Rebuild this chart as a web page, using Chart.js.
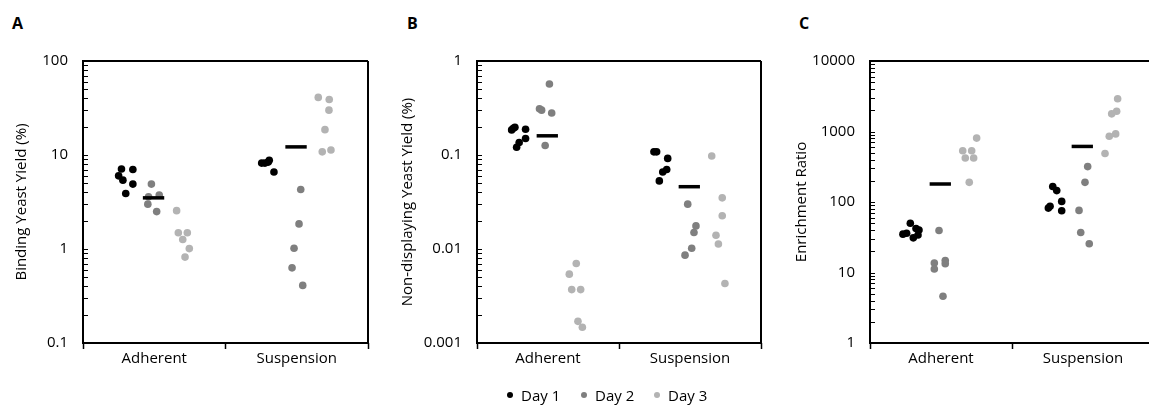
<!DOCTYPE html>
<html>
<head>
<meta charset="utf-8">
<script src="https://cdn.jsdelivr.net/npm/chart.js@4"></script>
<style>
  html, body { margin: 0; padding: 0; background: #fff; overflow: hidden; }
  body { width: 1149px; height: 405px; position: relative; font-family: 'Open Sans', sans-serif; }
  .panel { position: absolute; top: 0; height: 405px; }
  .letter { position: absolute; top: 12px; font-weight: bold; font-size: 16px; color: #000; }
  .legend-item { position: absolute; top: 385px; font-size: 15px; color: #000; display: flex; align-items: center; }
  .legend-item i { display: inline-block; width: 6px; height: 6px; border-radius: 50%; margin-right: 8px; }
</style>
</head>
<body>
<div class="letter" style="left:12px">A</div>
<div class="letter" style="left:407px">B</div>
<div class="letter" style="left:799px">C</div>

<div class="panel" style="left:0;width:380px"><canvas id="chartA"></canvas></div>
<div class="panel" style="left:380px;width:390px"><canvas id="chartB"></canvas></div>
<div class="panel" style="left:770px;width:390px"><canvas id="chartC"></canvas></div>

<div id="legend"></div>

<script>
const categories = ['Adherent', 'Suspension'];
const days = ['Day 1', 'Day 2', 'Day 3'];
const dayColors = ['#000000', '#7f7f7f', '#b3b3b3'];

// each point: [x position on the category axis (0..2), value]
// A - binding yeast yield (%)
const aAdherentDay1 = [[0.27, 7.1], [0.25, 6.0], [0.28, 5.4], [0.30, 3.9], [0.35, 7.0], [0.35, 4.9]];
const aAdherentDay2 = [[0.48, 4.9], [0.46, 3.6], [0.535, 3.75], [0.455, 3.0], [0.517, 2.5]];
const aAdherentDay3 = [[0.657, 2.56], [0.669, 1.49], [0.732, 1.49], [0.70, 1.26], [0.746, 1.01], [0.716, 0.82]];
const aSuspensionDay1 = [[1.254, 8.2], [1.277, 8.2], [1.30, 8.4], [1.307, 8.8], [1.34, 6.6]];
const aSuspensionDay2 = [[1.528, 4.3], [1.516, 1.85], [1.481, 1.02], [1.467, 0.63], [1.542, 0.41]];
const aSuspensionDay3 = [[1.651, 41], [1.728, 39], [1.726, 30], [1.698, 18.6], [1.679, 10.8], [1.74, 11.3]];
const aMeans = [3.5, 12.2];
const aTickLabels = ['0.1', '1', '10', '100'];

// B - non-displaying yeast yield (%)
const bAdherentDay1 = [[0.256, 0.192], [0.267, 0.197], [0.244, 0.185], [0.342, 0.188], [0.342, 0.15], [0.297, 0.136], [0.279, 0.121]];
const bAdherentDay2 = [[0.51, 0.57], [0.44, 0.31], [0.455, 0.30], [0.526, 0.28], [0.48, 0.126]];
const bAdherentDay3 = [[0.699, 0.0070], [0.65, 0.0054], [0.667, 0.0037], [0.73, 0.0037], [0.711, 0.0017], [0.742, 0.00147]];
const bSuspensionDay1 = [[1.246, 0.108], [1.265, 0.108], [1.343, 0.092], [1.336, 0.070], [1.308, 0.066], [1.284, 0.053]];
const bSuspensionDay2 = [[1.484, 0.030], [1.542, 0.0176], [1.528, 0.015], [1.512, 0.0102], [1.465, 0.0086]];
const bSuspensionDay3 = [[1.653, 0.0975], [1.727, 0.035], [1.727, 0.0226], [1.683, 0.014], [1.70, 0.0113], [1.746, 0.0043]];
const bMeans = [0.16, 0.046];
const bTickLabels = ['0.001', '0.01', '0.1', '1'];

// C - enrichment ratio
const cAdherentDay1 = [[0.284, 50], [0.258, 36], [0.232, 35], [0.305, 31], [0.324, 42], [0.345, 40], [0.338, 34]];
const cAdherentDay2 = [[0.486, 39.5], [0.453, 13.6], [0.453, 11.2], [0.53, 14.8], [0.53, 13.3], [0.514, 4.6]];
const cAdherentDay3 = [[0.653, 533], [0.716, 533], [0.671, 420], [0.73, 420], [0.751, 806], [0.699, 190]];
const cSuspensionDay1 = [[1.287, 166], [1.315, 145], [1.256, 82], [1.268, 87], [1.35, 102], [1.35, 75]];
const cSuspensionDay2 = [[1.533, 318], [1.514, 190], [1.472, 76], [1.484, 37], [1.544, 25.6]];
const cSuspensionDay3 = [[1.744, 2920], [1.737, 1936], [1.702, 1780], [1.73, 925], [1.685, 855], [1.655, 487]];
const cMeans = [180, 614];
const cTickLabels = ['1', '10', '100', '1000', '10000'];

const meanFrom = 0.42, meanTo = 0.57;
const FONT = { family: 'Open Sans', size: 15 };

// frame round the plot + short inward ticks on the log axis
const framePlugin = {
  id: 'frame',
  afterDraw(chart, args, opts) {
    const { ctx, chartArea: a } = chart;
    const y = chart.scales.y;
    ctx.save();
    ctx.strokeStyle = '#000';
    ctx.lineWidth = 1;
    y.ticks.forEach(t => {
      const py = Math.round(y.getPixelForValue(t.value)) + 0.5;
      ctx.beginPath();
      ctx.moveTo(a.left, py);
      ctx.lineTo(a.left + 5, py);
      ctx.stroke();
    });
    ctx.lineWidth = 2;
    ctx.beginPath();
    ctx.moveTo(a.right, a.top);
    ctx.lineTo(a.left, a.top);
    ctx.lineTo(a.left, a.bottom);
    ctx.lineTo(a.right, a.bottom);
    if (!opts.openRight) ctx.lineTo(a.right, a.top);
    ctx.stroke();
    ctx.restore();
  }
};

function toPoints(list) {
  return list.map(p => ({ x: p[0], y: p[1] }));
}

function makePanel(id, groups, means, tickLabels, title, opt) {
  const minExp = Math.round(Math.log10(opt.min));
  const maxExp = Math.round(Math.log10(opt.max));
  const tickValues = [];
  for (let e = minExp; e < maxExp; e++) {
    for (let s = 1; s < 10; s++) tickValues.push(s * Math.pow(10, e));
  }
  tickValues.push(Math.pow(10, maxExp));

  const meanSets = means.map((m, i) => ({
    type: 'line',
    data: [{ x: i + meanFrom, y: m }, { x: i + meanTo, y: m }],
    borderColor: '#000',
    borderWidth: 3.5,
    pointRadius: 0,
    fill: false
  }));

  const daySets = groups.map((g, d) => ({
    label: days[d],
    data: toPoints(g[0].concat(g[1])),
    backgroundColor: dayColors[d],
    borderColor: dayColors[d],
    borderWidth: 0,
    pointRadius: 3.8
  }));

  return new Chart(document.getElementById(id), {
    type: 'scatter',
    data: { datasets: meanSets.concat(daySets) },
    options: {
      responsive: true,
      maintainAspectRatio: false,
      animation: false,
      events: [],
      layout: { padding: { top: 61, right: opt.right, bottom: 32, left: 0 } },
      plugins: {
        legend: { display: false },
        tooltip: { enabled: false },
        frame: { openRight: !!opt.openRight }
      },
      scales: {
        x: {
          type: 'linear',
          min: 0,
          max: 2,
          afterBuildTicks: axis => { axis.ticks = [0, 0.5, 1, 1.5, 2].map(v => ({ value: v })); },
          afterFit: axis => { axis.height = 30; },
          border: { display: false },
          grid: {
            display: true,
            drawOnChartArea: false,
            drawTicks: true,
            tickLength: 6,
            tickWidth: 1.5,
            tickColor: c => Number.isInteger(c.tick.value) ? '#000' : 'rgba(0,0,0,0)'
          },
          ticks: {
            autoSkip: false,
            maxRotation: 0,
            padding: 1,
            color: '#000',
            font: FONT,
            callback: v => v === 0.5 ? categories[0] : (v === 1.5 ? categories[1] : '')
          }
        },
        y: {
          type: 'logarithmic',
          min: opt.min,
          max: opt.max,
          afterBuildTicks: axis => { axis.ticks = tickValues.map(v => ({ value: v })); },
          afterFit: axis => { axis.width = opt.axisWidth; },
          border: { display: false },
          grid: { display: false, drawTicks: false },
          ticks: {
            autoSkip: false,
            padding: 15,
            color: '#000',
            font: FONT,
            callback: v => {
              const e = Math.log10(v);
              if (Math.abs(e - Math.round(e)) > 1e-6) return '';
              return tickLabels[Math.round(e) - minExp];
            }
          },
          title: {
            display: true,
            text: title,
            color: '#000',
            font: FONT,
            padding: { top: opt.titlePad, bottom: 0 }
          }
        }
      }
    },
    plugins: [framePlugin]
  });
}

makePanel('chartA',
  [[aAdherentDay1, aSuspensionDay1], [aAdherentDay2, aSuspensionDay2], [aAdherentDay3, aSuspensionDay3]],
  aMeans, aTickLabels, 'Binding Yeast Yield (%)',
  { min: 0.1, max: 100, right: 12, axisWidth: 83, titlePad: 13 });

makePanel('chartB',
  [[bAdherentDay1, bSuspensionDay1], [bAdherentDay2, bSuspensionDay2], [bAdherentDay3, bSuspensionDay3]],
  bMeans, bTickLabels, 'Non-displaying Yeast Yield (%)',
  { min: 0.001, max: 1, right: 9, axisWidth: 97, titlePad: 19 });

// panel C runs past the right edge of the figure, so its right side stays open
makePanel('chartC',
  [[cAdherentDay1, cSuspensionDay1], [cAdherentDay2, cSuspensionDay2], [cAdherentDay3, cSuspensionDay3]],
  cMeans, cTickLabels, 'Enrichment Ratio',
  { min: 1, max: 10000, right: 6, axisWidth: 100, titlePad: 23, openRight: true });

// legend under panel B
const legendLeft = [507, 581, 654];
const legend = document.getElementById('legend');
days.forEach((d, i) => {
  legend.innerHTML += `<div class="legend-item" style="left:${legendLeft[i]}px"><i style="background:${dayColors[i]}"></i>${d}</div>`;
});
</script>
</body>
</html>
